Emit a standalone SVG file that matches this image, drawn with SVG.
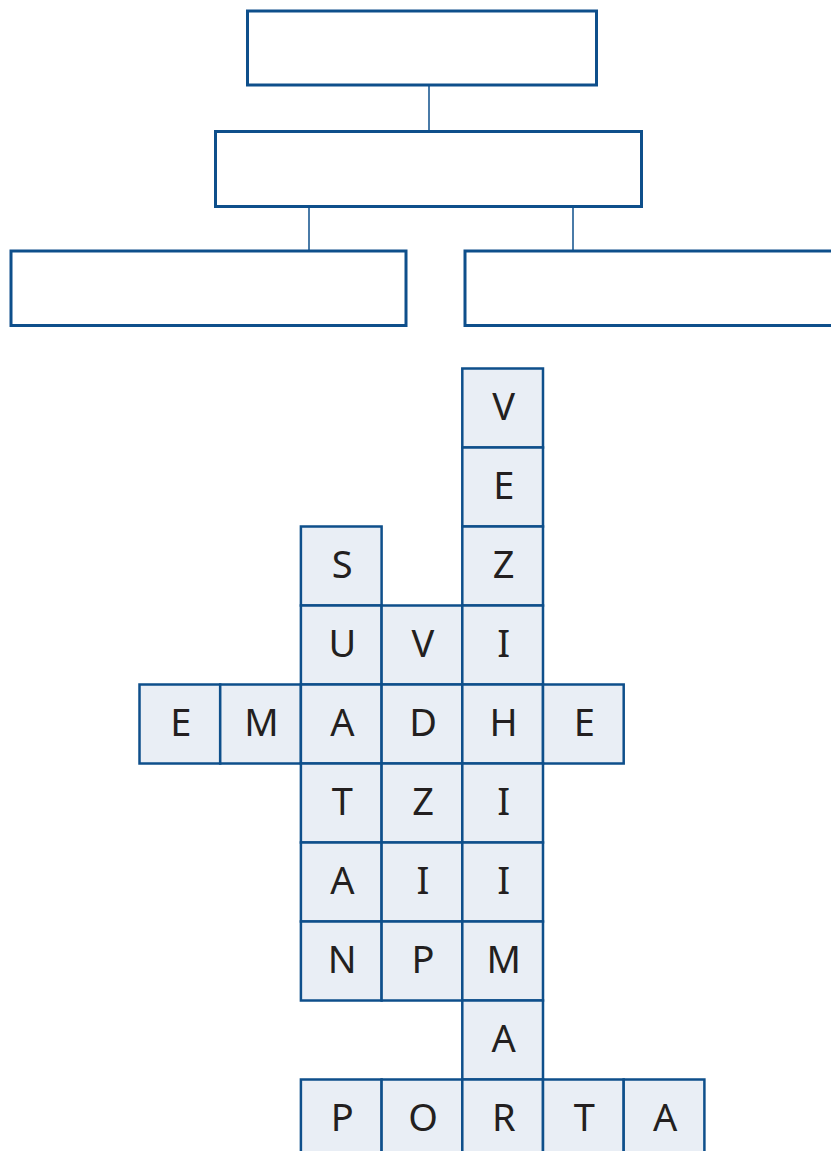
<svg xmlns="http://www.w3.org/2000/svg" width="831" height="1151" viewBox="0 0 831 1151">
<style>
.box{fill:#ffffff;stroke:#0e4f8b;stroke-width:3}
.conn{stroke:#0e4f8b;stroke-width:1.5;fill:none}
.cell rect{fill:#e9eef5;stroke:#0e4f8b;stroke-width:2.5}
.cell text{font-family:"Noto Sans","DejaVu Sans",sans-serif;font-size:38px;fill:#231f20;text-anchor:middle}
</style>
<rect width="831" height="1151" fill="#ffffff"/>
<g id="connectors">
<line class="conn" x1="429" y1="85" x2="429" y2="131"/>
<line class="conn" x1="309" y1="206" x2="309" y2="251"/>
<line class="conn" x1="573" y1="206" x2="573" y2="251"/>
</g>
<g id="box-top"><rect class="box" x="247.5" y="11" width="349" height="74"/></g>
<g id="box-middle"><rect class="box" x="215.5" y="131.5" width="426" height="75"/></g>
<g id="box-left"><rect class="box" x="11" y="251" width="395" height="74.5"/></g>
<g id="box-right"><rect class="box" x="465" y="251" width="370" height="74.5"/></g>
<g id="grid">
<g id="c-0-4" class="cell"><rect x="462.3" y="368.5" width="80.7" height="79"/><text x="503.7" y="419.5">V</text></g>
<g id="c-1-4" class="cell"><rect x="462.3" y="447.5" width="80.7" height="79"/><text x="503.7" y="498.5">E</text></g>
<g id="c-2-2" class="cell"><rect x="300.9" y="526.5" width="80.7" height="79"/><text x="342.3" y="577.5">S</text></g>
<g id="c-2-4" class="cell"><rect x="462.3" y="526.5" width="80.7" height="79"/><text x="503.7" y="577.5">Z</text></g>
<g id="c-3-2" class="cell"><rect x="300.9" y="605.5" width="80.7" height="79"/><text x="342.3" y="656.5">U</text></g>
<g id="c-3-3" class="cell"><rect x="381.6" y="605.5" width="80.7" height="79"/><text x="423" y="656.5">V</text></g>
<g id="c-3-4" class="cell"><rect x="462.3" y="605.5" width="80.7" height="79"/><text x="503.7" y="656.5">I</text></g>
<g id="c-4-0" class="cell"><rect x="139.5" y="684.5" width="80.7" height="79"/><text x="180.9" y="735.5">E</text></g>
<g id="c-4-1" class="cell"><rect x="220.2" y="684.5" width="80.7" height="79"/><text x="261.6" y="735.5">M</text></g>
<g id="c-4-2" class="cell"><rect x="300.9" y="684.5" width="80.7" height="79"/><text x="342.3" y="735.5">A</text></g>
<g id="c-4-3" class="cell"><rect x="381.6" y="684.5" width="80.7" height="79"/><text x="423" y="735.5">D</text></g>
<g id="c-4-4" class="cell"><rect x="462.3" y="684.5" width="80.7" height="79"/><text x="503.7" y="735.5">H</text></g>
<g id="c-4-5" class="cell"><rect x="543" y="684.5" width="80.7" height="79"/><text x="584.4" y="735.5">E</text></g>
<g id="c-5-2" class="cell"><rect x="300.9" y="763.5" width="80.7" height="79"/><text x="342.3" y="814.5">T</text></g>
<g id="c-5-3" class="cell"><rect x="381.6" y="763.5" width="80.7" height="79"/><text x="423" y="814.5">Z</text></g>
<g id="c-5-4" class="cell"><rect x="462.3" y="763.5" width="80.7" height="79"/><text x="503.7" y="814.5">I</text></g>
<g id="c-6-2" class="cell"><rect x="300.9" y="842.5" width="80.7" height="79"/><text x="342.3" y="893.5">A</text></g>
<g id="c-6-3" class="cell"><rect x="381.6" y="842.5" width="80.7" height="79"/><text x="423" y="893.5">I</text></g>
<g id="c-6-4" class="cell"><rect x="462.3" y="842.5" width="80.7" height="79"/><text x="503.7" y="893.5">I</text></g>
<g id="c-7-2" class="cell"><rect x="300.9" y="921.5" width="80.7" height="79"/><text x="342.3" y="972.5">N</text></g>
<g id="c-7-3" class="cell"><rect x="381.6" y="921.5" width="80.7" height="79"/><text x="423" y="972.5">P</text></g>
<g id="c-7-4" class="cell"><rect x="462.3" y="921.5" width="80.7" height="79"/><text x="503.7" y="972.5">M</text></g>
<g id="c-8-4" class="cell"><rect x="462.3" y="1000.5" width="80.7" height="79"/><text x="503.7" y="1051.5">A</text></g>
<g id="c-9-2" class="cell"><rect x="300.9" y="1079.5" width="80.7" height="79"/><text x="342.3" y="1130.5">P</text></g>
<g id="c-9-3" class="cell"><rect x="381.6" y="1079.5" width="80.7" height="79"/><text x="423" y="1130.5">O</text></g>
<g id="c-9-4" class="cell"><rect x="462.3" y="1079.5" width="80.7" height="79"/><text x="503.7" y="1130.5">R</text></g>
<g id="c-9-5" class="cell"><rect x="543" y="1079.5" width="80.7" height="79"/><text x="584.4" y="1130.5">T</text></g>
<g id="c-9-6" class="cell"><rect x="623.7" y="1079.5" width="80.7" height="79"/><text x="665.1" y="1130.5">A</text></g>
</g>
</svg>
